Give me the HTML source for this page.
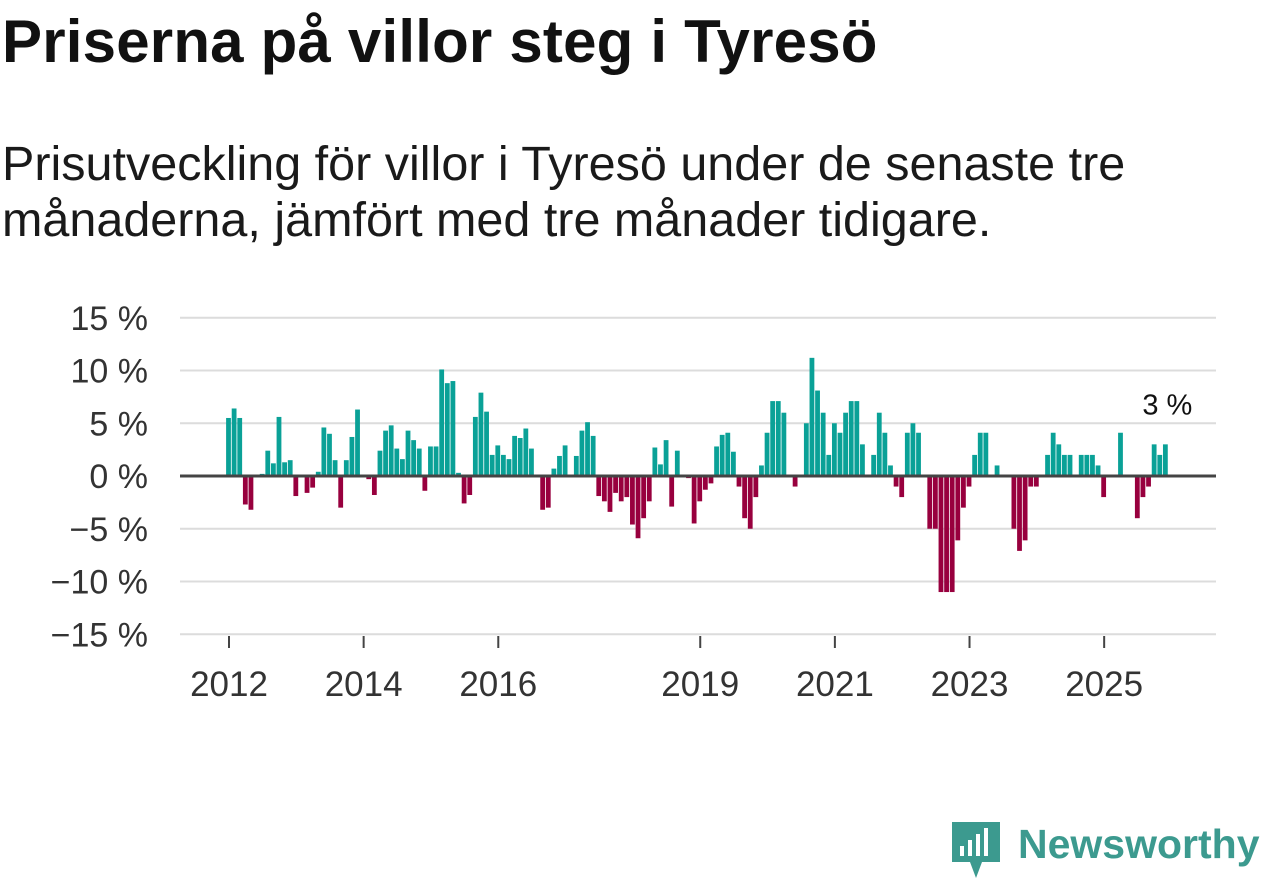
<!DOCTYPE html>
<html><head><meta charset="utf-8"><style>
body{margin:0;width:1262px;height:879px;background:#fff;overflow:hidden;font-family:"Liberation Sans",sans-serif;color:#111}
h1{position:absolute;left:2px;top:7px;margin:0;font-size:60px;font-weight:bold;letter-spacing:0.2px}
.sub{position:absolute;left:2px;top:136px;margin:0;font-size:48.5px;line-height:56px;color:#1a1a1a}
svg{position:absolute;left:0;top:0}
</style></head><body>
<h1>Priserna på villor steg i Tyresö</h1>
<p class="sub">Prisutveckling för villor i Tyresö under de senaste tre<br>månaderna, jämfört med tre månader tidigare.</p>
<svg id="chart" width="1262" height="879"></svg>
<script>
const startYear = 2012;
const values = [5.5,6.4,5.5,-2.7,-3.2,0,0.2,2.4,1.2,5.6,1.3,1.5,
-1.9,0,-1.6,-1.1,0.4,4.6,4.0,1.5,-3.0,1.5,3.7,6.3,
0,-0.3,-1.8,2.4,4.3,4.8,2.6,1.6,4.3,3.4,2.6,-1.4,
2.8,2.8,10.1,8.8,9.0,0.3,-2.6,-1.8,5.6,7.9,6.1,2.0,
2.9,2.0,1.6,3.8,3.6,4.5,2.6,0,-3.2,-3.0,0.7,1.9,
2.9,0,1.9,4.3,5.1,3.8,-1.9,-2.4,-3.4,-1.6,-2.4,-2.0,
-4.6,-5.9,-4.0,-2.4,2.7,1.1,3.4,-2.9,2.4,0,-0.2,-4.5,
-2.4,-1.3,-0.7,2.8,3.9,4.1,2.3,-1.0,-4.0,-5.0,-2.0,1.0,
4.1,7.1,7.1,6.0,0,-1.0,0,5.0,11.2,8.1,6.0,2.0,
5.0,4.1,6.0,7.1,7.1,3.0,0,2.0,6.0,4.1,1.0,-1.0,
-2.0,4.1,5.0,4.1,0,-5.0,-5.0,-11,-11,-11,-6.1,-3.0,
-1.0,2.0,4.1,4.1,0,1.0,0,0,-5.0,-7.1,-6.1,-1.0,
-1.0,0,2.0,4.1,3.0,2.0,2.0,0,2.0,2.0,2.0,1.0,
-2.0,0,0,4.1,0,0,-4.0,-2.0,-1.0,3.0,2.0,3.0];
const yTicks = [15,10,5,0,-5,-10,-15];
const yTickLabels = ["15 %","10 %","5 %","0 %","\u22125 %","\u221210 %","\u221215 %"];
const xTickYears = [2012,2014,2016,2019,2021,2023,2025];
const lastLabel = "3 %";

const svg=document.getElementById('chart');
const NS='http://www.w3.org/2000/svg';
const y=v=>476-v*10.55;
const x=m=>228.5+m*5.61;
function mk(t,a){const e=document.createElementNS(NS,t);for(const k in a)e.setAttribute(k,a[k]);svg.appendChild(e);return e;}
yTicks.forEach((t,i)=>{
  if(t!==0){const g=mk('line',{x1:180,x2:1216,y1:y(t),y2:y(t),stroke:'#dcdcdc','stroke-width':2});
  
  }
  const l=mk('text',{x:148,y:y(t)+12,'text-anchor':'end','font-size':34,fill:'#333','font-family':'Liberation Sans, sans-serif'});
  l.textContent=yTickLabels[i];
  
  
});
values.forEach((v,m)=>{
  if(v===0)return;
  const r=mk('rect',{x:x(m)-2.4,width:4.8,y:Math.min(y(v),476),height:Math.abs(y(v)-476),fill:v>0?'#0aa197':'#98003e'});
  
  
});
const z=mk('line',{x1:180,x2:1216,y1:476,y2:476,stroke:'#444','stroke-width':3});


xTickYears.forEach(yr=>{
  const xx=x((yr-startYear)*12)+0.5;
  const t=mk('line',{x1:xx,x2:xx,y1:636,y2:648,stroke:'#444','stroke-width':2});
  
  
  const l=mk('text',{x:xx,y:696,'text-anchor':'middle','font-size':35,fill:'#333','font-family':'Liberation Sans, sans-serif'});
  l.textContent=yr;
  
  
});
const lm=values.length-1;
const a=mk('text',{x:x(lm)+2,y:y(values[lm])-30,'text-anchor':'middle','font-size':29,fill:'#111','font-family':'Liberation Sans, sans-serif'});
a.textContent=lastLabel;


</script>
<svg width="1262" height="879" style="position:absolute;left:0;top:0">
<path d="M952 822 h48 v40 h-18 l-6 16 l-6 -16 h-18 z" fill="#3c9a8f"/>
<rect x="960" y="846" width="4" height="10" fill="#fff"/><rect x="968" y="840" width="4" height="16" fill="#fff"/><rect x="976" y="834" width="4" height="22" fill="#fff"/><rect x="984" y="828" width="4" height="28" fill="#fff"/>
<text x="1018" y="858" font-size="41" font-weight="bold" fill="#3c9a8f" font-family="Liberation Sans, sans-serif">Newsworthy</text>
</svg>
</body></html>
